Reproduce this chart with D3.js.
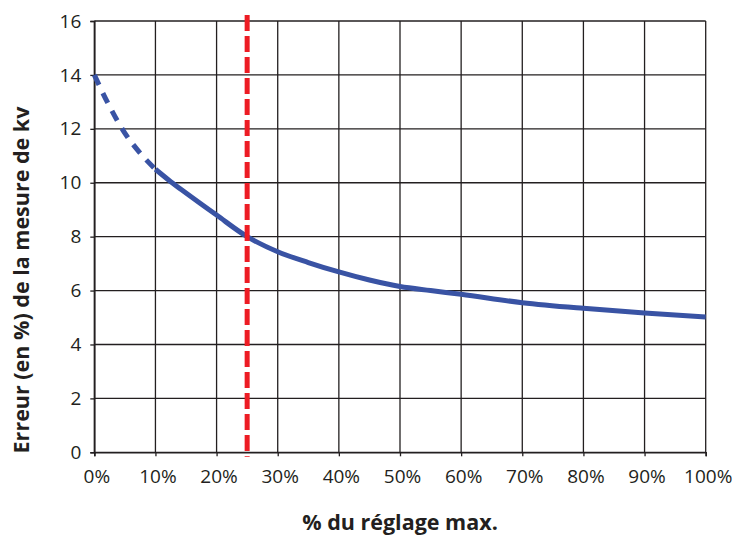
<!DOCTYPE html>
<html>
<head>
<meta charset="utf-8">
<script src="https://cdn.jsdelivr.net/npm/d3@7"></script>
<style>
  body { margin: 0; background: #fff; }
  svg { display: block; }
  .tick text { font-family: "Open Sans", sans-serif; font-size: 19px; fill: #231f20; }
</style>
</head>
<body>
<svg id="chart" width="740" height="535"></svg>
<script>
// reading from the picture: % of max setting vs error (%) of kV measure
var dashPct = [0, 2.5, 5, 7.5, 10];
var dashErr = [14, 12.83, 11.84, 11.1, 10.5];
var solidPct = [10, 12.5, 15, 20, 25, 30, 35, 40, 45, 50, 55, 60, 70, 80, 90, 100];
var solidErr = [10.5, 10.04, 9.62, 8.8, 8.0, 7.44, 7.04, 6.69, 6.39, 6.15, 6.0, 5.86, 5.55, 5.34, 5.17, 5.02];
var markerPct = 25;
var xTicks = [0, 10, 20, 30, 40, 50, 60, 70, 80, 90, 100];
var yTicks = [0, 2, 4, 6, 8, 10, 12, 14, 16];

var svg = d3.select("#chart");
var margin = { top: 21, right: 34.3, bottom: 82.7, left: 94.3 },
    width = 740 - margin.left - margin.right,
    height = 535 - margin.top - margin.bottom;

var x = d3.scaleLinear().domain([0, 100]).range([0, width]);
var y = d3.scaleLinear().domain([0, 16]).range([height, 0]);

var g = svg.append("g").attr("transform", "translate(" + margin.left + "," + margin.top + ")");

// grid
g.append("g").selectAll("line")
    .data(yTicks)
    .enter()
    .append("line")
    .attr("x1", 0).attr("x2", width)
    .attr("y1", function (d) { return y(d); })
    .attr("y2", function (d) { return y(d); })
    .attr("stroke", "#231f20").attr("stroke-width", 1.3);
g.append("g").selectAll("line")
    .data(xTicks)
    .enter()
    .append("line")
    .attr("y1", 0).attr("y2", height)
    .attr("x1", function (d) { return x(d); })
    .attr("x2", function (d) { return x(d); })
    .attr("stroke", "#231f20").attr("stroke-width", 1.3);

// axes
var xAxis = g.append("g")
    .attr("transform", "translate(0," + height + ")")
    .call(d3.axisBottom(x).tickValues(xTicks).tickSize(4).tickPadding(13)
        .tickFormat(function (d) { return d + "%"; }));
xAxis.selectAll("text").attr("dx", 2);
var yAxis = g.append("g")
    .call(d3.axisLeft(y).tickValues(yTicks).tickSize(4).tickPadding(9));
g.selectAll(".domain").attr("stroke", "#231f20").attr("stroke-width", 1.6);
g.selectAll(".tick line").attr("stroke", "#231f20").attr("stroke-width", 1.3);

// curve
var line = d3.line()
    .x(function (d) { return x(d[0]); })
    .y(function (d) { return y(d[1]); })
    .curve(d3.curveMonotoneX);

g.append("path")
    .datum(dashPct.map(function (p, i) { return [p, dashErr[i]]; }))
    .attr("d", line)
    .attr("fill", "none")
    .attr("stroke", "#3953a4")
    .attr("stroke-width", 5)
    .attr("stroke-dasharray", "11,9");

g.append("path")
    .datum(solidPct.map(function (p, i) { return [p, solidErr[i]]; }))
    .attr("d", line)
    .attr("fill", "none")
    .attr("stroke", "#3953a4")
    .attr("stroke-width", 5)
    .attr("stroke-linejoin", "round");

// red marker at 25%
g.append("line")
    .attr("x1", x(markerPct)).attr("x2", x(markerPct))
    .attr("y1", -6).attr("y2", height + 4.5)
    .attr("stroke", "#ed1c24")
    .attr("stroke-width", 5)
    .attr("stroke-dasharray", "16,5");

// axis titles
svg.append("text")
    .attr("x", 400)
    .attr("y", 530)
    .attr("text-anchor", "middle")
    .style("font-family", "'Open Sans', sans-serif")
    .style("font-weight", "bold")
    .style("font-size", "21.5px")
    .attr("fill", "#231f20")
    .text("% du réglage max.");

svg.append("text")
    .attr("transform", "translate(29,280) rotate(-90)")
    .attr("text-anchor", "middle")
    .style("font-family", "'Open Sans', sans-serif")
    .style("font-weight", "bold")
    .style("font-size", "21.5px")
    .attr("fill", "#231f20")
    .text("Erreur (en %) de la mesure de kv");
</script>
</body>
</html>
